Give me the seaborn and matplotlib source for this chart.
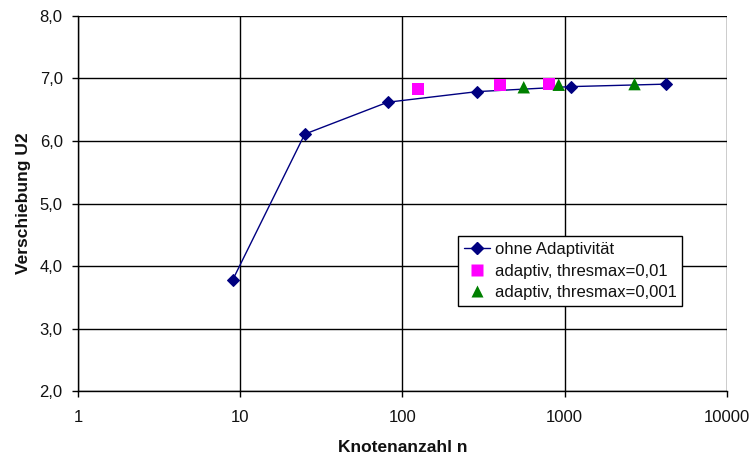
import matplotlib
matplotlib.use("Agg")
import matplotlib.pyplot as plt
import seaborn as sns
import pandas as pd
from matplotlib.ticker import FuncFormatter, FixedLocator, NullLocator
from matplotlib.lines import Line2D

# Data
n_ohne = [9, 25, 81, 289, 1089, 4225]
u_ohne = [3.78, 6.11, 6.62, 6.79, 6.87, 6.91]
n_a01 = [125, 400, 800]
u_a01 = [6.83, 6.90, 6.91]
n_a001 = [560, 920, 2700]
u_a001 = [6.86, 6.90, 6.91]
labels = ["ohne Adaptivität", "adaptiv, thresmax=0,01", "adaptiv, thresmax=0,001"]
x_ticks = [1, 10, 100, 1000, 10000]

sns.set_style("white")
plt.rcParams['font.family'] = ['Liberation Sans', 'DejaVu Sans']

fig = plt.figure(figsize=(7.5, 4.57), dpi=100)
ax = fig.add_axes([0.104, 0.1444, 0.865, 0.8206])

df0 = pd.DataFrame({"n": n_ohne, "u": u_ohne})
df1 = pd.DataFrame({"n": n_a01, "u": u_a01})
df2 = pd.DataFrame({"n": n_a001, "u": u_a001})

sns.lineplot(data=df0, x="n", y="u", ax=ax, color="#000080", lw=1.0,
             marker="D", markersize=6.5, markeredgecolor="#000080", zorder=3)
sns.scatterplot(data=df1, x="n", y="u", ax=ax, color="#FF00FF", marker="s",
                s=75, edgecolor="none", zorder=4)
sns.scatterplot(data=df2, x="n", y="u", ax=ax, color="#008000", marker="^",
                s=80, edgecolor="none", zorder=4)

ax.set_xscale("log")
ax.set_xlim(1, 10000)
ax.set_ylim(2.0, 8.0)
ax.xaxis.set_major_locator(FixedLocator(x_ticks))
ax.xaxis.set_minor_locator(NullLocator())
ax.xaxis.set_major_formatter(FuncFormatter(lambda v, p: f"{int(round(v))}"))
ax.yaxis.set_major_locator(FixedLocator([2, 3, 4, 5, 6, 7, 8]))
ax.yaxis.set_major_formatter(FuncFormatter(lambda v, p: f"{v:.1f}".replace('.', ',')))

ax.grid(True, color="#000000", lw=1.0)
ax.set_axisbelow(True)
for s in ["left", "bottom"]:
    ax.spines[s].set_color("#000000")
    ax.spines[s].set_linewidth(1.0)
for s in ["top", "right"]:
    ax.spines[s].set_visible(False)

ax.tick_params(axis="both", which="major", direction="out", length=4.5, width=1,
               color="#000000", labelsize=12, labelcolor="#111111",
               left=True, bottom=True)
ax.tick_params(axis="y", pad=6.5)
ax.tick_params(axis="x", pad=9)

ax.set_xlabel("Knotenanzahl n", fontsize=12.5, fontweight="bold", labelpad=11,
              color="#111111")
ax.set_ylabel("Verschiebung U2", fontsize=12.5, fontweight="bold", labelpad=6,
              color="#111111")

handles = [
    Line2D([0], [0], color="#000080", lw=1.0, marker="D", markersize=6,
           markerfacecolor="#000080", markeredgecolor="#000080"),
    Line2D([0], [0], color="none", marker="s", markersize=8,
           markerfacecolor="#FF00FF", markeredgecolor="none"),
    Line2D([0], [0], color="none", marker="^", markersize=8,
           markerfacecolor="#008000", markeredgecolor="none"),
]
leg = ax.legend(handles, labels, loc="upper left", bbox_to_anchor=(0.5855, 0.4133),
                frameon=True, fancybox=False, framealpha=1, edgecolor="#000000",
                fontsize=12, handlelength=1.55, handletextpad=0.3,
                borderpad=0.35, labelspacing=0.4, borderaxespad=0)
leg.get_frame().set_linewidth(1.0)
for t in leg.get_texts():
    t.set_color("#111111")

fig.savefig("out.png", dpi=100)
